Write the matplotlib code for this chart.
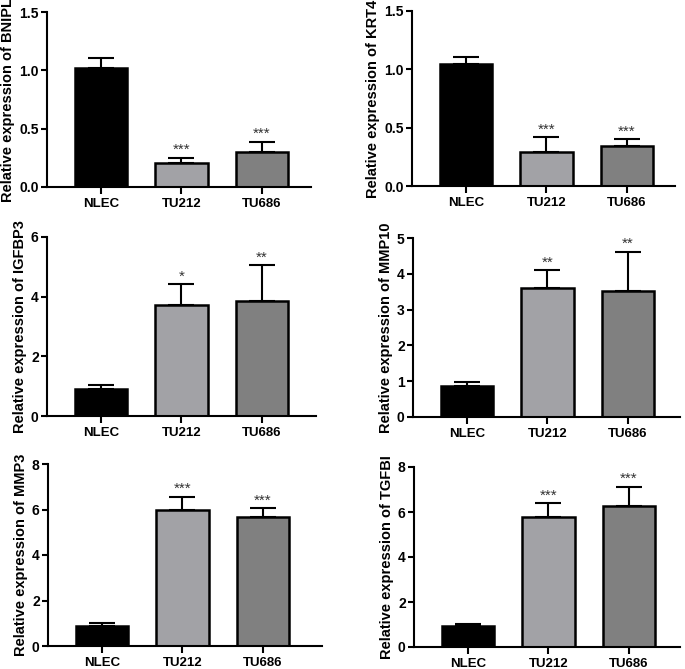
import numpy as np
import matplotlib
matplotlib.use('Agg')
import matplotlib.pyplot as plt

plt.rcParams['font.family'] = ['Liberation Sans', 'DejaVu Sans']
plt.rcParams['font.weight'] = 'bold'

groups = ['NLEC', 'TU212', 'TU686']
colors = ['#000000', '#a2a2a6', '#808080']

genes = ['BNIPL', 'KRT4', 'IGFBP3', 'MMP10', 'MMP3', 'TGFBI']
means = {
    'BNIPL': [1.02, 0.205, 0.30],
    'KRT4': [1.045, 0.29, 0.34],
    'IGFBP3': [0.90, 3.72, 3.85],
    'MMP10': [0.87, 3.61, 3.53],
    'MMP3': [0.89, 5.98, 5.68],
    'TGFBI': [0.94, 5.78, 6.28],
}
errs = {
    'BNIPL': [0.085, 0.045, 0.09],
    'KRT4': [0.06, 0.13, 0.06],
    'IGFBP3': [0.13, 0.70, 1.21],
    'MMP10': [0.12, 0.49, 1.09],
    'MMP3': [0.11, 0.58, 0.37],
    'TGFBI': [0.07, 0.62, 0.84],
}
stars = {
    'BNIPL': ['', '***', '***'],
    'KRT4': ['', '***', '***'],
    'IGFBP3': ['', '*', '**'],
    'MMP10': ['', '**', '**'],
    'MMP3': ['', '***', '***'],
    'TGFBI': ['', '***', '***'],
}
ymax = {'BNIPL': 1.5, 'KRT4': 1.5, 'IGFBP3': 6, 'MMP10': 5, 'MMP3': 8, 'TGFBI': 8}
yticks = {
    'BNIPL': [0, 0.5, 1.0, 1.5],
    'KRT4': [0, 0.5, 1.0, 1.5],
    'IGFBP3': [0, 2, 4, 6],
    'MMP10': [0, 1, 2, 3, 4, 5],
    'MMP3': [0, 2, 4, 6, 8],
    'TGFBI': [0, 2, 4, 6, 8],
}

W, H = 685, 669
# axes boxes in pixels: left, right, top, bottom
boxes = {
    'BNIPL': (47, 311, 12, 187),
    'KRT4': (412, 675, 11, 186),
    'IGFBP3': (47, 316, 237, 416),
    'MMP10': (413, 680, 238, 417),
    'MMP3': (48, 322, 464, 646),
    'TGFBI': (414, 680, 467, 647),
}

fig = plt.figure(figsize=(W / 100, H / 100), dpi=100)

for g in genes:
    l, r, t, b = boxes[g]
    ax = fig.add_axes([l / W, (H - b) / H, (r - l) / W, (b - t) / H])
    x = np.arange(len(groups))
    m = np.array(means[g])
    e = np.array(errs[g])
    ax.bar(x, m, width=0.65, color=colors, edgecolor='black', linewidth=1.8, zorder=2)
    ax.errorbar(x, m, yerr=[np.zeros_like(e), e], fmt='none', ecolor='black',
                elinewidth=1.5, capsize=9.5, capthick=1.5, zorder=1)
    for xi, top, s in zip(x, m + e, stars[g]):
        if s:
            ax.annotate(s, (xi, top), xytext=(0, 0.5), textcoords='offset points',
                        ha='center', va='bottom', fontsize=11, fontweight='normal',
                        color='#333333')
    ax.set_xlim(-0.67, (r - l) / 80.5 - 0.67)
    ax.set_ylim(0, ymax[g])
    ax.set_yticks(yticks[g])
    if ymax[g] < 2:
        ax.set_yticklabels(['%.1f' % v for v in yticks[g]])
    ax.set_xticks(x)
    ax.set_xticklabels(groups)
    ax.spines['top'].set_visible(False)
    ax.spines['right'].set_visible(False)
    ax.spines['left'].set_linewidth(1.5)
    ax.spines['bottom'].set_linewidth(1.5)
    ax.tick_params(axis='both', width=1.5, length=4)
    ax.tick_params(axis='x', length=5, pad=3, labelsize=9.5)
    ax.tick_params(axis='y', pad=2, labelsize=10)
    ax.set_ylabel('Relative expression of ' + g, fontsize=10.5, fontweight='bold', labelpad=3)

fig.savefig('out.png', dpi=100)
